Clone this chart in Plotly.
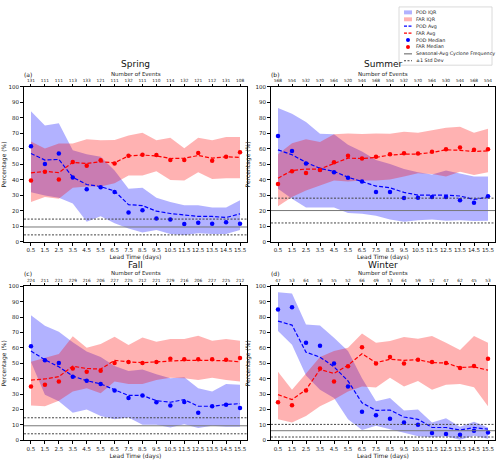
import plotly.graph_objects as go

lead = [0.5, 1.5, 2.5, 3.5, 4.5, 5.5, 6.5, 7.5, 8.5, 9.5, 10.5, 11.5, 12.5, 13.5, 14.5, 15.5]
lead_labels = ["0.5", "1.5", "2.5", "3.5", "4.5", "5.5", "6.5", "7.5", "8.5", "9.5",
               "10.5", "11.5", "12.5", "13.5", "14.5", "15.5"]
seasons = ["Spring", "Summer", "Fall", "Winter"]
panel_tags = ["(a)", "(b)", "(c)", "(d)"]
legend_names = ["POD IQR", "FAR IQR", "POD Avg", "FAR Avg", "POD Median", "FAR Median",
                "Seasonal-Avg Cyclone Frequency", "±1 Std Dev"]

# Number of events per lead time
events_spring = [131, 111, 111, 113, 133, 121, 111, 132, 111, 110, 114, 132, 121, 112, 131, 108]
events_summer = [568, 554, 532, 570, 564, 520, 544, 568, 554, 532, 570, 564, 530, 544, 568, 554]
events_fall = [224, 211, 221, 229, 216, 206, 227, 225, 212, 221, 229, 216, 206, 227, 225, 212]
events_winter = [47, 53, 64, 56, 55, 52, 66, 49, 53, 64, 59, 52, 47, 62, 45, 53]

# Spring
pod_med_spring = [61.7, 50.2, 57.0, 41.5, 34.0, 35.3, 32.1, 18.9, 20.4, 15.1, 14.5, 11.5, 12.3, 11.7, 12.6, 11.7]
pod_avg_spring = [57.0, 52.8, 53.2, 41.7, 37.0, 35.7, 32.8, 24.0, 23.4, 19.8, 18.3, 17.2, 16.4, 16.4, 15.7, 18.1]
pod_q3_spring = [84.3, 75.1, 76.6, 59.1, 56.6, 54.9, 46.0, 34.3, 35.0, 28.5, 25.7, 23.6, 23.6, 22.1, 22.1, 26.8]
pod_q1_spring = [32.0, 30.0, 28.5, 24.7, 13.0, 16.6, 12.0, 8.7, 6.0, 7.7, 5.0, 4.5, 5.5, 5.0, 5.0, 7.7]
far_med_spring = [39.6, 45.3, 40.2, 51.5, 49.1, 52.6, 50.6, 55.5, 56.2, 56.0, 52.8, 52.8, 57.4, 52.3, 54.9, 57.9]
far_avg_spring = [44.5, 45.5, 44.7, 51.3, 50.6, 51.7, 51.0, 55.5, 56.0, 55.5, 53.8, 54.0, 55.7, 54.0, 54.9, 54.5]
far_q3_spring = [64.7, 60.2, 63.4, 63.4, 66.2, 65.5, 65.7, 68.7, 70.4, 65.5, 67.2, 60.4, 67.2, 65.5, 67.7, 67.7]
far_q1_spring = [25.7, 29.0, 27.9, 35.0, 35.7, 35.7, 37.9, 42.8, 42.8, 45.5, 40.0, 39.6, 44.9, 40.6, 41.0, 41.0]

# Summer
pod_med_summer = [68.3, 58.7, 50.6, 46.6, 44.9, 41.3, 38.9, 32.1, 32.1, 28.3, 28.5, 28.9, 28.9, 26.8, 25.3, 29.4]
pod_avg_summer = [59.4, 56.2, 51.3, 47.4, 45.5, 41.7, 38.9, 36.0, 34.9, 31.9, 30.2, 30.2, 30.2, 29.6, 27.4, 28.9]
pod_q3_summer = [86.4, 82.6, 77.4, 69.8, 69.4, 62.6, 58.3, 52.8, 50.2, 47.0, 44.9, 43.4, 46.0, 44.3, 42.1, 42.1]
pod_q1_summer = [34.3, 27.9, 22.1, 21.9, 22.1, 18.7, 18.1, 16.8, 14.5, 13.0, 14.0, 14.5, 13.6, 14.0, 13.4, 13.6]
far_med_summer = [37.4, 45.5, 44.5, 46.4, 51.3, 55.5, 53.8, 54.9, 56.6, 57.2, 57.0, 58.1, 59.8, 60.9, 59.4, 59.8]
far_avg_summer = [41.1, 46.0, 47.0, 47.0, 50.6, 54.0, 53.8, 54.5, 56.0, 56.6, 56.6, 57.7, 59.4, 59.1, 58.3, 58.7]
far_q3_summer = [56.6, 63.6, 66.2, 64.5, 69.4, 70.0, 69.6, 70.0, 69.8, 71.0, 70.4, 71.9, 73.6, 74.3, 70.4, 73.0]
far_q1_summer = [23.0, 29.0, 33.2, 36.4, 39.6, 38.9, 39.6, 39.6, 40.2, 42.1, 44.3, 43.8, 42.1, 45.3, 43.2, 44.9]

# Fall
pod_med_fall = [61.0, 51.9, 50.2, 41.3, 38.7, 36.6, 32.3, 27.4, 29.1, 24.7, 22.6, 24.9, 17.9, 22.1, 23.0, 20.9]
pod_avg_fall = [57.9, 52.3, 47.7, 41.7, 38.7, 36.6, 32.8, 29.1, 29.1, 25.7, 24.7, 26.4, 22.1, 22.1, 23.2, 23.8]
pod_q3_fall = [81.2, 74.3, 70.4, 63.6, 57.7, 54.0, 48.3, 44.9, 46.0, 42.8, 40.2, 40.9, 33.8, 31.7, 36.6, 36.0]
pod_q1_fall = [50.9, 29.6, 25.3, 17.9, 20.0, 15.7, 13.6, 14.7, 10.0, 10.0, 8.3, 10.4, 7.9, 9.4, 8.7, 8.7]
far_med_fall = [34.9, 36.0, 38.1, 46.6, 44.5, 45.1, 50.2, 50.9, 50.2, 50.9, 53.0, 52.6, 52.6, 52.6, 52.3, 53.4]
far_avg_fall = [39.1, 39.8, 41.3, 48.1, 46.6, 46.2, 51.9, 50.9, 50.4, 50.9, 51.5, 51.9, 51.9, 51.9, 51.7, 50.9]
far_q3_fall = [51.0, 53.4, 56.0, 67.5, 60.0, 62.5, 67.2, 61.9, 66.8, 64.0, 65.7, 65.7, 67.9, 64.7, 65.7, 64.7]
far_q1_fall = [22.6, 22.1, 25.7, 31.7, 33.8, 30.6, 38.1, 36.6, 36.6, 39.1, 40.6, 40.2, 39.1, 40.6, 39.1, 38.1]

# Winter
pod_med_winter = [84.9, 86.4, 63.4, 61.4, 49.8, 34.9, 18.5, 16.2, 14.0, 11.5, 10.0, 4.7, 4.0, 3.6, 6.2, 5.1]
pod_avg_winter = [77.4, 74.8, 57.2, 54.0, 47.7, 38.5, 24.3, 19.4, 19.6, 15.1, 13.6, 8.3, 8.3, 6.6, 8.3, 7.2]
pod_q3_winter = [96.1, 95.3, 75.2, 74.6, 66.6, 58.0, 40.2, 25.3, 27.4, 19.4, 20.0, 11.5, 14.3, 8.7, 12.1, 8.3]
pod_q1_winter = [70.9, 62.0, 42.0, 32.8, 27.4, 13.6, 6.6, 9.4, 7.2, 5.1, 2.6, 1.9, 2.6, 0.4, 3.0, 0.9]
far_med_winter = [24.7, 22.8, 32.3, 46.6, 38.1, 48.1, 60.4, 49.8, 54.0, 49.8, 52.3, 50.9, 50.2, 47.0, 48.3, 53.0]
far_avg_winter = [29.6, 26.4, 32.8, 46.0, 43.4, 48.7, 56.2, 50.4, 52.6, 51.9, 52.3, 50.4, 50.2, 47.2, 47.7, 45.5]
far_q3_winter = [44.5, 32.8, 43.4, 54.0, 58.0, 60.1, 69.4, 63.4, 64.4, 67.0, 66.0, 67.7, 63.4, 58.6, 67.7, 63.4]
far_q1_winter = [13.6, 11.5, 15.7, 22.1, 26.4, 31.7, 34.9, 34.3, 40.6, 34.9, 38.5, 32.8, 36.0, 36.6, 34.5, 22.1]

# Seasonal average cyclone frequency and std dev
clim_mean = [9.6, 20.2, 9.4, 6.2]
clim_std = [5.1, 8.0, 5.2, 4.1]

data = {
    "Spring": (events_spring, pod_med_spring, pod_avg_spring, pod_q3_spring, pod_q1_spring,
               far_med_spring, far_avg_spring, far_q3_spring, far_q1_spring),
    "Summer": (events_summer, pod_med_summer, pod_avg_summer, pod_q3_summer, pod_q1_summer,
               far_med_summer, far_avg_summer, far_q3_summer, far_q1_summer),
    "Fall": (events_fall, pod_med_fall, pod_avg_fall, pod_q3_fall, pod_q1_fall,
             far_med_fall, far_avg_fall, far_q3_fall, far_q1_fall),
    "Winter": (events_winter, pod_med_winter, pod_avg_winter, pod_q3_winter, pod_q1_winter,
               far_med_winter, far_avg_winter, far_q3_winter, far_q1_winter),
}

W, H = 500, 463
FONT = "DejaVu Sans"
TXT = "#222222"
BLUE_FILL = "rgba(0,0,255,0.3)"
RED_FILL = "rgba(255,0,0,0.3)"
DASH = "4px,2px"
DOT = "2px,1.5px"
MEAN_COL = "#777777"
STD_COL = "#444444"

# panel boxes in pixels (left, right, top, bottom)
boxes = [(24, 247, 85, 242), (271, 495, 85, 242), (24, 247, 287, 443), (271, 495, 287, 443)]
title_offsets = [23.5, 23.5, 21.5, 21.5]

fig = go.Figure()
layout = {}


def px(x):
    return x / W


def py(y):
    return 1 - y / H


for i, s in enumerate(seasons):
    ev, pmed, pavg, pq3, pq1, fmed, favg, fq3, fq1 = data[s]
    n = i + 1
    xa = "x" if n == 1 else f"x{n}"
    ya = "y" if n == 1 else f"y{n}"
    top_n = n + 4
    L, R, T, B = boxes[i]
    xd = [px(L), px(R)]
    yd = [py(B), py(T)]

    fig.add_trace(go.Scatter(x=lead, y=pq3, mode="lines", line=dict(width=0), xaxis=xa, yaxis=ya,
                             hoverinfo="skip"))
    fig.add_trace(go.Scatter(x=lead, y=pq1, mode="lines", line=dict(width=0), fill="tonexty",
                             fillcolor=BLUE_FILL, xaxis=xa, yaxis=ya, name="POD IQR"))
    fig.add_trace(go.Scatter(x=lead, y=fq3, mode="lines", line=dict(width=0), xaxis=xa, yaxis=ya,
                             hoverinfo="skip"))
    fig.add_trace(go.Scatter(x=lead, y=fq1, mode="lines", line=dict(width=0), fill="tonexty",
                             fillcolor=RED_FILL, xaxis=xa, yaxis=ya, name="FAR IQR"))
    fig.add_trace(go.Scatter(x=lead, y=pavg, mode="lines", line=dict(color="blue", width=1.2, dash=DASH),
                             xaxis=xa, yaxis=ya, name="POD Avg"))
    fig.add_trace(go.Scatter(x=lead, y=favg, mode="lines", line=dict(color="red", width=1.2, dash=DASH),
                             xaxis=xa, yaxis=ya, name="FAR Avg"))
    fig.add_trace(go.Scatter(x=lead, y=pmed, mode="markers", marker=dict(color="blue", size=4.5),
                             xaxis=xa, yaxis=ya, name="POD Median"))
    fig.add_trace(go.Scatter(x=lead, y=fmed, mode="markers", marker=dict(color="red", size=4.5),
                             xaxis=xa, yaxis=ya, name="FAR Median"))

    # climatology lines
    m, sd = clim_mean[i], clim_std[i]
    for yv, dash, col in [(m, "solid", MEAN_COL), (m + sd, DOT, STD_COL), (m - sd, DOT, STD_COL)]:
        fig.add_shape(type="line", xref=f"{xa} domain", yref=ya, x0=0, x1=1, y0=yv, y1=yv,
                      line=dict(color=col, width=1, dash=dash))

    ax_common = dict(showline=True, linecolor="black", linewidth=0.8, ticks="outside", ticklen=3,
                     tickwidth=0.7, tickcolor="black", showgrid=False, zeroline=False,
                     tickfont=dict(size=5.5, family=FONT, color=TXT))
    layout[f"xaxis{n if n > 1 else ''}"] = dict(
        domain=xd, anchor=ya, range=[0, 16], tickvals=lead, ticktext=lead_labels, mirror=True,
        tickangle=0,
        title=dict(text="Lead Time (days)", font=dict(size=6, family=FONT, color=TXT), standoff=1),
        **ax_common)
    layout[f"yaxis{n if n > 1 else ''}"] = dict(
        domain=yd, anchor=xa, range=[0, 100], tickvals=list(range(0, 101, 10)), mirror=True,
        title=dict(text="Percentage (%)", font=dict(size=6, family=FONT, color=TXT), standoff=4),
        **ax_common)
    layout[f"xaxis{top_n}"] = dict(
        domain=xd, anchor=ya, overlaying=xa, side="top", range=[0, 16], tickvals=lead,
        ticktext=[str(v) for v in ev], showline=False, ticks="outside", ticklen=2, tickwidth=0.6,
        tickcolor="black", showgrid=False, zeroline=False, tickangle=0,
        tickfont=dict(size=4.3, family=FONT, color=TXT))
    fig.add_trace(go.Scatter(x=lead, y=[None] * len(lead), xaxis=f"x{top_n}", yaxis=ya,
                             hoverinfo="skip", mode="lines"))

    fig.add_annotation(text=s, xref="paper", yref="paper", x=px((L + R) / 2), y=py(T - title_offsets[i]),
                       showarrow=False, font=dict(size=9, family=FONT, color="#111"),
                       xanchor="center", yanchor="middle")
    fig.add_annotation(text="Number of Events", xref="paper", yref="paper", x=px((L + R) / 2),
                       y=py(T - 13), showarrow=False, font=dict(size=5.5, family=FONT, color=TXT),
                       xanchor="center", yanchor="middle")
    fig.add_annotation(text=panel_tags[i], xref="paper", yref="paper", x=px(L - 2), y=py(T - 13),
                       showarrow=False, font=dict(size=6, family=FONT, color="#111"),
                       xanchor="left", yanchor="middle")

# manual compact legend (upper right)
LX0, LX1, LY0, LY1 = 399, 492, 4, 63
fig.add_shape(type="rect", xref="paper", yref="paper", x0=px(LX0), x1=px(LX1), y0=py(LY1), y1=py(LY0),
              line=dict(color="#d0d0d0", width=0.8), fillcolor="rgba(255,255,255,0.9)")
SW0, SW1, TXX = 404, 412, 414
for k, name in enumerate(legend_names):
    yc = 9.5 + 7.0 * k
    if k in (0, 1):
        fig.add_shape(type="rect", xref="paper", yref="paper", x0=px(SW0), x1=px(SW1),
                      y0=py(yc + 2), y1=py(yc - 2), line=dict(width=0),
                      fillcolor=BLUE_FILL if k == 0 else RED_FILL)
    elif k in (2, 3):
        fig.add_shape(type="line", xref="paper", yref="paper", x0=px(SW0), x1=px(SW1), y0=py(yc), y1=py(yc),
                      line=dict(color="blue" if k == 2 else "red", width=1.2, dash="3px,1.5px"))
    elif k in (4, 5):
        fig.add_shape(type="circle", xref="paper", yref="paper", x0=px((SW0 + SW1) / 2 - 2),
                      x1=px((SW0 + SW1) / 2 + 2), y0=py(yc + 2), y1=py(yc - 2), line=dict(width=0),
                      fillcolor="blue" if k == 4 else "red")
    elif k == 6:
        fig.add_shape(type="line", xref="paper", yref="paper", x0=px(SW0), x1=px(SW1), y0=py(yc), y1=py(yc),
                      line=dict(color=MEAN_COL, width=1.2))
    else:
        fig.add_shape(type="line", xref="paper", yref="paper", x0=px(SW0), x1=px(SW1), y0=py(yc), y1=py(yc),
                      line=dict(color=STD_COL, width=1, dash=DOT))
    fig.add_annotation(text=name, xref="paper", yref="paper", x=px(TXX), y=py(yc), showarrow=False,
                       font=dict(size=4.8, family=FONT, color=TXT), xanchor="left", yanchor="middle")

fig.update_layout(
    width=W, height=H, margin=dict(l=0, r=0, t=0, b=0),
    paper_bgcolor="white", plot_bgcolor="white", showlegend=False,
    font=dict(family=FONT, size=6, color=TXT),
    **layout,
)

fig.write_html("out.html")
